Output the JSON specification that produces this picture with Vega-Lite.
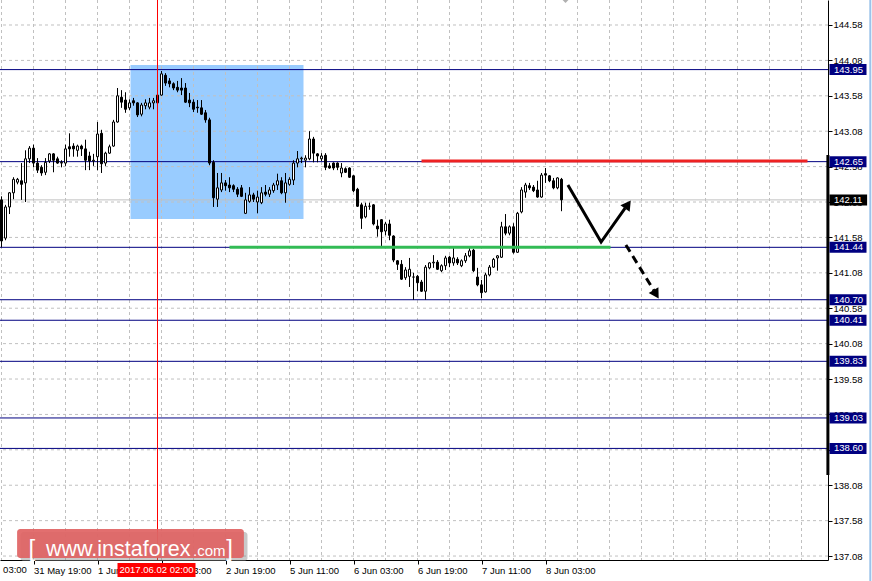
{
"$schema": "https://vega.github.io/schema/vega-lite/v6.json",
"width": 828, "height": 560,
"autosize": "none",
"padding": {"left": 0, "top": 0, "right": 44, "bottom": 21},
"background": "white",
"config": {"view": {"stroke": null}, "scale": {"continuousPadding": 0}, "axis": {"labelFont": "Liberation Sans", "labelFontSize": 9.5, "labelColor": "black", "domainColor": "black", "tickColor": "black", "grid": false}},
"datasets": {
"candles": [
{"i":0,"o":142.11,"h":142.16,"l":141.44,"c":141.53},
{"i":1,"o":141.57,"h":142.04,"l":141.54,"c":142.01},
{"i":2,"o":142.01,"h":142.22,"l":141.91,"c":142.21},
{"i":3,"o":142.21,"h":142.43,"l":142.12,"c":142.40},
{"i":4,"o":142.36,"h":142.42,"l":142.33,"c":142.40},
{"i":5,"o":142.38,"h":142.63,"l":142.11,"c":142.33},
{"i":6,"o":142.35,"h":142.81,"l":142.08,"c":142.69},
{"i":7,"o":142.69,"h":142.87,"l":142.63,"c":142.84},
{"i":8,"o":142.84,"h":142.89,"l":142.57,"c":142.63},
{"i":9,"o":142.63,"h":142.70,"l":142.49,"c":142.53},
{"i":10,"o":142.57,"h":142.60,"l":142.45,"c":142.49},
{"i":11,"o":142.50,"h":142.70,"l":142.46,"c":142.64},
{"i":12,"o":142.66,"h":142.77,"l":142.63,"c":142.76},
{"i":13,"o":142.76,"h":142.77,"l":142.50,"c":142.67},
{"i":14,"o":142.69,"h":142.72,"l":142.62,"c":142.63},
{"i":15,"o":142.63,"h":142.67,"l":142.57,"c":142.64},
{"i":16,"o":142.63,"h":142.89,"l":142.59,"c":142.83},
{"i":17,"o":142.86,"h":143.05,"l":142.72,"c":142.83},
{"i":18,"o":142.87,"h":142.91,"l":142.72,"c":142.83},
{"i":19,"o":142.81,"h":142.89,"l":142.72,"c":142.87},
{"i":20,"o":142.87,"h":142.89,"l":142.73,"c":142.83},
{"i":21,"o":142.83,"h":142.96,"l":142.53,"c":142.67},
{"i":22,"o":142.73,"h":142.79,"l":142.53,"c":142.66},
{"i":23,"o":142.66,"h":142.76,"l":142.59,"c":142.67},
{"i":24,"o":142.72,"h":143.21,"l":142.53,"c":143.04},
{"i":25,"o":143.05,"h":143.10,"l":142.49,"c":142.62},
{"i":26,"o":142.63,"h":142.79,"l":142.59,"c":142.77},
{"i":27,"o":142.77,"h":142.89,"l":142.76,"c":142.86},
{"i":28,"o":142.87,"h":143.24,"l":142.86,"c":143.21},
{"i":29,"o":143.21,"h":143.69,"l":143.20,"c":143.58},
{"i":30,"o":143.56,"h":143.66,"l":143.41,"c":143.49},
{"i":31,"o":143.52,"h":143.63,"l":143.34,"c":143.39},
{"i":32,"o":143.41,"h":143.53,"l":143.38,"c":143.48},
{"i":33,"o":143.51,"h":143.55,"l":143.44,"c":143.48},
{"i":34,"o":143.48,"h":143.49,"l":143.28,"c":143.31},
{"i":35,"o":143.32,"h":143.48,"l":143.29,"c":143.45},
{"i":36,"o":143.44,"h":143.53,"l":143.39,"c":143.48},
{"i":37,"o":143.42,"h":143.55,"l":143.39,"c":143.48},
{"i":38,"o":143.48,"h":143.55,"l":143.39,"c":143.51},
{"i":39,"o":143.48,"h":143.61,"l":143.46,"c":143.59},
{"i":40,"o":143.59,"h":143.93,"l":143.58,"c":143.89},
{"i":41,"o":143.87,"h":143.90,"l":143.72,"c":143.76},
{"i":42,"o":143.79,"h":143.83,"l":143.70,"c":143.75},
{"i":43,"o":143.75,"h":143.77,"l":143.66,"c":143.69},
{"i":44,"o":143.70,"h":143.79,"l":143.63,"c":143.66},
{"i":45,"o":143.69,"h":143.83,"l":143.59,"c":143.66},
{"i":46,"o":143.69,"h":143.76,"l":143.48,"c":143.49},
{"i":47,"o":143.52,"h":143.62,"l":143.42,"c":143.48},
{"i":48,"o":143.49,"h":143.53,"l":143.35,"c":143.39},
{"i":49,"o":143.42,"h":143.52,"l":143.34,"c":143.41},
{"i":50,"o":143.41,"h":143.52,"l":143.31,"c":143.32},
{"i":51,"o":143.34,"h":143.38,"l":143.20,"c":143.24},
{"i":52,"o":143.24,"h":143.27,"l":142.60,"c":142.63},
{"i":53,"o":142.64,"h":142.67,"l":142.01,"c":142.14},
{"i":54,"o":142.12,"h":142.49,"l":142.01,"c":142.28},
{"i":55,"o":142.25,"h":142.49,"l":142.22,"c":142.35},
{"i":56,"o":142.35,"h":142.39,"l":142.24,"c":142.31},
{"i":57,"o":142.32,"h":142.43,"l":142.22,"c":142.28},
{"i":58,"o":142.31,"h":142.33,"l":142.22,"c":142.26},
{"i":59,"o":142.26,"h":142.29,"l":142.15,"c":142.19},
{"i":60,"o":142.28,"h":142.32,"l":142.15,"c":142.16},
{"i":61,"o":141.92,"h":142.21,"l":141.91,"c":142.11},
{"i":62,"o":142.09,"h":142.29,"l":142.07,"c":142.18},
{"i":63,"o":142.18,"h":142.21,"l":142.08,"c":142.12},
{"i":64,"o":142.08,"h":142.24,"l":141.92,"c":142.15},
{"i":65,"o":142.07,"h":142.29,"l":142.05,"c":142.21},
{"i":66,"o":142.22,"h":142.32,"l":142.16,"c":142.19},
{"i":67,"o":142.19,"h":142.29,"l":142.15,"c":142.25},
{"i":68,"o":142.24,"h":142.35,"l":142.21,"c":142.32},
{"i":69,"o":142.32,"h":142.48,"l":142.25,"c":142.38},
{"i":70,"o":142.38,"h":142.43,"l":142.19,"c":142.21},
{"i":71,"o":142.21,"h":142.49,"l":142.07,"c":142.35},
{"i":72,"o":142.33,"h":142.43,"l":142.31,"c":142.40},
{"i":73,"o":142.39,"h":142.67,"l":142.32,"c":142.63},
{"i":74,"o":142.63,"h":142.80,"l":142.57,"c":142.69},
{"i":75,"o":142.69,"h":142.72,"l":142.63,"c":142.70},
{"i":76,"o":142.67,"h":142.74,"l":142.57,"c":142.70},
{"i":77,"o":142.69,"h":143.08,"l":142.67,"c":142.97},
{"i":78,"o":142.97,"h":143.00,"l":142.64,"c":142.77},
{"i":79,"o":142.76,"h":142.77,"l":142.64,"c":142.73},
{"i":80,"o":142.69,"h":142.77,"l":142.66,"c":142.73},
{"i":81,"o":142.74,"h":142.77,"l":142.53,"c":142.57},
{"i":82,"o":142.59,"h":142.63,"l":142.55,"c":142.56},
{"i":83,"o":142.63,"h":142.64,"l":142.53,"c":142.56},
{"i":84,"o":142.63,"h":142.64,"l":142.53,"c":142.57},
{"i":85,"o":142.49,"h":142.63,"l":142.43,"c":142.56},
{"i":86,"o":142.55,"h":142.57,"l":142.49,"c":142.50},
{"i":87,"o":142.56,"h":142.57,"l":142.42,"c":142.43},
{"i":88,"o":142.45,"h":142.46,"l":142.22,"c":142.24},
{"i":89,"o":142.26,"h":142.28,"l":142.01,"c":142.02},
{"i":90,"o":142.04,"h":142.07,"l":141.70,"c":141.85},
{"i":91,"o":141.87,"h":142.07,"l":141.85,"c":142.02},
{"i":92,"o":142.02,"h":142.07,"l":141.97,"c":142.02},
{"i":93,"o":142.04,"h":142.05,"l":141.75,"c":141.77},
{"i":94,"o":141.74,"h":141.83,"l":141.59,"c":141.70},
{"i":95,"o":141.83,"h":141.84,"l":141.44,"c":141.66},
{"i":96,"o":141.67,"h":141.80,"l":141.61,"c":141.77},
{"i":97,"o":141.77,"h":141.83,"l":141.54,"c":141.61},
{"i":98,"o":141.60,"h":141.61,"l":141.23,"c":141.26},
{"i":99,"o":141.25,"h":141.26,"l":141.12,"c":141.20},
{"i":100,"o":141.20,"h":141.26,"l":140.98,"c":140.99},
{"i":101,"o":141.01,"h":141.16,"l":140.98,"c":141.12},
{"i":102,"o":141.03,"h":141.29,"l":140.88,"c":141.13},
{"i":103,"o":141.02,"h":141.08,"l":140.70,"c":141.02},
{"i":104,"o":141.03,"h":141.05,"l":140.82,"c":140.94},
{"i":105,"o":140.95,"h":140.98,"l":140.81,"c":140.82},
{"i":106,"o":140.82,"h":141.19,"l":140.70,"c":141.16},
{"i":107,"o":141.15,"h":141.23,"l":141.13,"c":141.22},
{"i":108,"o":141.22,"h":141.33,"l":141.15,"c":141.23},
{"i":109,"o":141.23,"h":141.26,"l":141.12,"c":141.13},
{"i":110,"o":141.11,"h":141.20,"l":141.09,"c":141.18},
{"i":111,"o":141.18,"h":141.32,"l":141.12,"c":141.29},
{"i":112,"o":141.30,"h":141.32,"l":141.16,"c":141.22},
{"i":113,"o":141.22,"h":141.43,"l":141.18,"c":141.29},
{"i":114,"o":141.27,"h":141.30,"l":141.19,"c":141.22},
{"i":115,"o":141.18,"h":141.27,"l":141.16,"c":141.25},
{"i":116,"o":141.25,"h":141.36,"l":141.22,"c":141.32},
{"i":117,"o":141.32,"h":141.43,"l":141.30,"c":141.39},
{"i":118,"o":141.40,"h":141.42,"l":141.09,"c":141.11},
{"i":119,"o":141.02,"h":141.15,"l":140.89,"c":140.91},
{"i":120,"o":140.91,"h":140.98,"l":140.72,"c":140.80},
{"i":121,"o":140.81,"h":141.08,"l":140.80,"c":141.05},
{"i":122,"o":141.05,"h":141.19,"l":141.03,"c":141.16},
{"i":123,"o":141.16,"h":141.29,"l":141.15,"c":141.27},
{"i":124,"o":141.29,"h":141.33,"l":141.11,"c":141.32},
{"i":125,"o":141.30,"h":141.80,"l":141.29,"c":141.73},
{"i":126,"o":141.73,"h":141.91,"l":141.61,"c":141.64},
{"i":127,"o":141.64,"h":141.75,"l":141.61,"c":141.73},
{"i":128,"o":141.73,"h":141.78,"l":141.35,"c":141.37},
{"i":129,"o":141.37,"h":141.94,"l":141.36,"c":141.92},
{"i":130,"o":141.94,"h":142.29,"l":141.92,"c":142.25},
{"i":131,"o":142.22,"h":142.35,"l":142.14,"c":142.32},
{"i":132,"o":142.31,"h":142.35,"l":142.25,"c":142.28},
{"i":133,"o":142.29,"h":142.32,"l":142.22,"c":142.24},
{"i":134,"o":142.25,"h":142.38,"l":142.14,"c":142.15},
{"i":135,"o":142.15,"h":142.49,"l":142.14,"c":142.46},
{"i":136,"o":142.48,"h":142.56,"l":142.35,"c":142.46},
{"i":137,"o":142.45,"h":142.46,"l":142.36,"c":142.38},
{"i":138,"o":142.38,"h":142.42,"l":142.26,"c":142.28},
{"i":139,"o":142.28,"h":142.43,"l":142.26,"c":142.42},
{"i":140,"o":142.40,"h":142.42,"l":141.95,"c":142.11}
],
"vgrid": [{"i":0},{"i":8},{"i":16},{"i":24},{"i":32},{"i":40},{"i":48},{"i":56},{"i":64},{"i":72},{"i":80},{"i":88},{"i":96},{"i":104},{"i":112},{"i":120},{"i":128},{"i":136},{"i":144},{"i":152},{"i":160},{"i":168},{"i":176},{"i":184},{"i":192},{"i":200}],
"hgrid": [{"p":137.08},{"p":137.58},{"p":138.08},{"p":138.58},{"p":139.08},{"p":139.58},{"p":140.08},{"p":140.58},{"p":141.08},{"p":141.58},{"p":142.08},{"p":142.58},{"p":143.08},{"p":143.58},{"p":144.08},{"p":144.58}],
"levels": [{"p":143.95},{"p":142.65},{"p":141.44},{"p":140.70},{"p":140.41},{"p":139.83},{"p":139.03},{"p":138.60}],
"vline": [{"t":39}],
"axisbar": [{"ab":206.6,"abtop":142.744,"abbot":138.224}],
"edge": [{"ex":217.2,"etop":144.95,"ebot":136.7}]
},
"layer": [
{"data": {"values": [{"i1": 32.25, "i2": 75.5, "p1": 144.015, "p2": 141.84}]},
 "mark": {"type": "rect", "color": "#99ccff"},
 "encoding": {"x": {"field": "i1", "type": "quantitative", "scale": {"domain": [-0.375, 206.625], "nice": false, "zero": false, "padding": 0},
  "axis": {"orient": "bottom", "values": [8, 24, 40, 56, 72, 88, 104, 120, 136], "tickCount": 40, "labelExpr": "datum.value==8?'31 May 19:00':datum.value==24?'1 Jun 11:00':datum.value==40?'2 Jun 03:00':datum.value==56?'2 Jun 19:00':datum.value==72?'5 Jun 11:00':datum.value==88?'6 Jun 03:00':datum.value==104?'6 Jun 19:00':datum.value==120?'7 Jun 11:00':'8 Jun 03:00'", "labelAlign": "left", "labelBaseline": "top", "labelPadding": 1, "tickSize": 4, "labelOverlap": false, "labelBound": false, "labelFlush": false, "title": null, "grid": false, "domain": true}},
  "x2": {"field": "i2"},
  "y": {"field": "p1", "type": "quantitative", "scale": {"domain": [137.024, 144.933], "nice": false, "zero": false, "padding": 0},
  "axis": {"orient": "right", "values": [137.08, 137.58, 138.08, 138.58, 139.08, 139.58, 140.08, 140.58, 141.08, 141.58, 142.08, 142.58, 143.08, 143.58, 144.08, 144.58], "tickCount": 40, "format": ".2f", "labelAlign": "left", "labelBaseline": "middle", "labelPadding": 1, "tickSize": 4, "labelOverlap": false, "labelBound": false, "labelFlush": false, "title": null, "grid": false, "domain": true}},
  "y2": {"field": "p2"}}},
{"data": {"name": "vgrid"},
 "mark": {"type": "rule", "color": "#c0c0c0", "strokeDash": [3, 3], "strokeWidth": 1},
 "encoding": {"x": {"field": "i", "type": "quantitative", "scale": {"domain": [-0.375, 206.625], "nice": false, "zero": false}}}},
{"data": {"name": "hgrid"},
 "mark": {"type": "rule", "color": "#c0c0c0", "strokeDash": [3, 3], "strokeWidth": 1},
 "encoding": {"y": {"field": "p", "type": "quantitative", "scale": {"domain": [137.024, 144.933], "nice": false, "zero": false}}}},
{"data": {"values": [{"p": 142.11}]},
 "mark": {"type": "rule", "color": "#c0c0c0", "strokeWidth": 1},
 "encoding": {"y": {"field": "p", "type": "quantitative", "scale": {"domain": [137.024, 144.933], "nice": false, "zero": false}}}},
{"data": {"name": "levels"},
 "mark": {"type": "rule", "color": "#000080", "strokeWidth": 1},
 "encoding": {"y": {"field": "p", "type": "quantitative", "scale": {"domain": [137.024, 144.933], "nice": false, "zero": false}}}},
{"data": {"name": "candles"},
 "mark": {"type": "rule", "color": "black", "strokeWidth": 1},
 "encoding": {"x": {"field": "i", "type": "quantitative", "scale": {"domain": [-0.375, 206.625], "nice": false, "zero": false}},
  "y": {"field": "l", "type": "quantitative", "scale": {"domain": [137.024, 144.933], "nice": false, "zero": false}}, "y2": {"field": "h"}}},
{"data": {"name": "candles"},
 "mark": {"type": "bar", "width": 2, "stroke": "black", "strokeWidth": 1},
 "encoding": {"x": {"field": "i", "type": "quantitative", "scale": {"domain": [-0.375, 206.625], "nice": false, "zero": false}},
  "y": {"field": "o", "type": "quantitative", "scale": {"domain": [137.024, 144.933], "nice": false, "zero": false}}, "y2": {"field": "c"},
  "fill": {"condition": {"test": "datum.c < datum.o", "value": "black"}, "value": "white"}}},
{"data": {"name": "vline"},
 "mark": {"type": "rule", "color": "#ff0000", "strokeWidth": 1},
 "encoding": {"x": {"field": "t", "type": "quantitative", "scale": {"domain": [-0.375, 206.625], "nice": false, "zero": false}}}},
{"data": {"values": [{"i1": 105, "i2": 201.5, "p": 142.66}]},
 "mark": {"type": "rule", "color": "#ee2222", "strokeWidth": 3},
 "encoding": {"x": {"field": "i1", "type": "quantitative", "scale": {"domain": [-0.375, 206.625], "nice": false, "zero": false}}, "x2": {"field": "i2"},
  "y": {"field": "p", "type": "quantitative", "scale": {"domain": [137.024, 144.933], "nice": false, "zero": false}}}},
{"data": {"values": [{"i1": 57, "i2": 152.25, "p": 141.44}]},
 "mark": {"type": "rule", "color": "#33bb55", "strokeWidth": 3},
 "encoding": {"x": {"field": "i1", "type": "quantitative", "scale": {"domain": [-0.375, 206.625], "nice": false, "zero": false}}, "x2": {"field": "i2"},
  "y": {"field": "p", "type": "quantitative", "scale": {"domain": [137.024, 144.933], "nice": false, "zero": false}}}},
{"data": {"values": [{"i": 141.6, "p": 142.32}, {"i": 149.9, "p": 141.515}, {"i": 155.9, "p": 141.994}]},
 "mark": {"type": "line", "color": "black", "strokeWidth": 3, "strokeJoin": "miter"},
 "encoding": {"x": {"field": "i", "type": "quantitative", "scale": {"domain": [-0.375, 206.625], "nice": false, "zero": false}},
  "y": {"field": "p", "type": "quantitative", "scale": {"domain": [137.024, 144.933], "nice": false, "zero": false}}}},
{"data": {"values": [{"i": 156.1, "p": 141.473}, {"i": 163.1, "p": 140.83}]},
 "mark": {"type": "line", "color": "black", "strokeWidth": 3, "strokeDash": [8, 5]},
 "encoding": {"x": {"field": "i", "type": "quantitative", "scale": {"domain": [-0.375, 206.625], "nice": false, "zero": false}},
  "y": {"field": "p", "type": "quantitative", "scale": {"domain": [137.024, 144.933], "nice": false, "zero": false}}}},
{"data": {"values": [{"i": 156.6, "p": 142.045}]},
 "mark": {"type": "point", "shape": "triangle-up", "filled": true, "color": "black", "size": 130, "angle": 35.5, "opacity": 1},
 "encoding": {"x": {"field": "i", "type": "quantitative", "scale": {"domain": [-0.375, 206.625], "nice": false, "zero": false}},
  "y": {"field": "p", "type": "quantitative", "scale": {"domain": [137.024, 144.933], "nice": false, "zero": false}}}},
{"data": {"values": [{"i": 163.65, "p": 140.776}]},
 "mark": {"type": "point", "shape": "triangle-up", "filled": true, "color": "black", "size": 130, "angle": 148.6, "opacity": 1},
 "encoding": {"x": {"field": "i", "type": "quantitative", "scale": {"domain": [-0.375, 206.625], "nice": false, "zero": false}},
  "y": {"field": "p", "type": "quantitative", "scale": {"domain": [137.024, 144.933], "nice": false, "zero": false}}}},
{"data": {"values": [{"i": 141, "p": 144.975}]},
 "mark": {"type": "point", "shape": "diamond", "filled": true, "color": "#b0b0b0", "size": 140, "opacity": 1},
 "encoding": {"x": {"field": "i", "type": "quantitative", "scale": {"domain": [-0.375, 206.625], "nice": false, "zero": false}},
  "y": {"field": "p", "type": "quantitative", "scale": {"domain": [137.024, 144.933], "nice": false, "zero": false}}}},
{"data": {"name": "axisbar"},
 "mark": {"type": "rule", "color": "black", "strokeWidth": 3},
 "encoding": {"x": {"field": "ab", "type": "quantitative", "scale": {"domain": [-0.375, 206.625], "nice": false, "zero": false}},
  "y": {"field": "abtop", "type": "quantitative", "scale": {"domain": [137.024, 144.933], "nice": false, "zero": false}}, "y2": {"field": "abbot"}}},
{"data": {"name": "edge"},
 "mark": {"type": "rule", "color": "#9cc3ea", "strokeWidth": 2},
 "encoding": {"x": {"field": "ex", "type": "quantitative", "scale": {"domain": [-0.375, 206.625], "nice": false, "zero": false}},
  "y": {"field": "etop", "type": "quantitative", "scale": {"domain": [137.024, 144.933], "nice": false, "zero": false}}, "y2": {"field": "ebot"}}},
{"data": {"name": "levels"},
 "mark": {"type": "bar", "orient": "horizontal", "size": 11, "color": "#000080"},
 "encoding": {"x": {"datum": 207, "type": "quantitative", "scale": {"domain": [-0.375, 206.625], "nice": false, "zero": false}}, "x2": {"datum": 216.25},
  "y": {"field": "p", "type": "quantitative", "scale": {"domain": [137.024, 144.933], "nice": false, "zero": false}}}},
{"data": {"name": "levels"},
 "mark": {"type": "text", "color": "white", "font": "Liberation Sans", "fontSize": 9.5, "align": "left", "baseline": "middle"},
 "encoding": {"x": {"datum": 208.1, "type": "quantitative", "scale": {"domain": [-0.375, 206.625], "nice": false, "zero": false}},
  "y": {"field": "p", "type": "quantitative", "scale": {"domain": [137.024, 144.933], "nice": false, "zero": false}},
  "text": {"field": "p", "type": "quantitative", "format": ".2f"}}},
{"data": {"values": [{"p": 142.11}]},
 "mark": {"type": "bar", "orient": "horizontal", "size": 11, "color": "black"},
 "encoding": {"x": {"datum": 207, "type": "quantitative", "scale": {"domain": [-0.375, 206.625], "nice": false, "zero": false}}, "x2": {"datum": 216.4},
  "y": {"field": "p", "type": "quantitative", "scale": {"domain": [137.024, 144.933], "nice": false, "zero": false}}}},
{"data": {"values": [{"p": 142.11}]},
 "mark": {"type": "text", "color": "white", "font": "Liberation Sans", "fontSize": 9.5, "align": "left", "baseline": "middle"},
 "encoding": {"x": {"datum": 208.1, "type": "quantitative", "scale": {"domain": [-0.375, 206.625], "nice": false, "zero": false}},
  "y": {"field": "p", "type": "quantitative", "scale": {"domain": [137.024, 144.933], "nice": false, "zero": false}},
  "text": {"field": "p", "type": "quantitative", "format": ".2f"}}},
{"data": {"values": [{"i1": 29, "i2": 48.5, "p": 136.883}]},
 "mark": {"type": "bar", "orient": "horizontal", "size": 14, "color": "#ff0000"},
 "encoding": {"x": {"field": "i1", "type": "quantitative", "scale": {"domain": [-0.375, 206.625], "nice": false, "zero": false}}, "x2": {"field": "i2"},
  "y": {"field": "p", "type": "quantitative", "scale": {"domain": [137.024, 144.933], "nice": false, "zero": false}}}},
{"data": {"values": [{"i": 38.75, "p": 136.883}]},
 "mark": {"type": "text", "text": "2017.06.02 02:00", "color": "white", "font": "Liberation Sans", "fontSize": 9.5, "align": "center", "baseline": "middle"},
 "encoding": {"x": {"field": "i", "type": "quantitative", "scale": {"domain": [-0.375, 206.625], "nice": false, "zero": false}},
  "y": {"field": "p", "type": "quantitative", "scale": {"domain": [137.024, 144.933], "nice": false, "zero": false}}}},
{"data": {"values": [{"i": 0.4, "p": 136.953}]},
 "mark": {"type": "text", "text": "03:00", "color": "black", "font": "Liberation Sans", "fontSize": 9.5, "align": "left", "baseline": "top"},
 "encoding": {"x": {"field": "i", "type": "quantitative", "scale": {"domain": [-0.375, 206.625], "nice": false, "zero": false}},
  "y": {"field": "p", "type": "quantitative", "scale": {"domain": [137.024, 144.933], "nice": false, "zero": false}}}},
{"data": {"values": [{"i1": 4.75, "i2": 61.5, "p": 137.214}]},
 "mark": {"type": "bar", "orient": "horizontal", "size": 29, "color": "#888888", "opacity": 0.45, "cornerRadius": 3},
 "encoding": {"x": {"field": "i1", "type": "quantitative", "scale": {"domain": [-0.375, 206.625], "nice": false, "zero": false}}, "x2": {"field": "i2"},
  "y": {"field": "p", "type": "quantitative", "scale": {"domain": [137.024, 144.933], "nice": false, "zero": false}}}},
{"data": {"values": [{"i1": 3.9, "i2": 60.6, "p": 137.257}]},
 "mark": {"type": "bar", "orient": "horizontal", "size": 29, "color": "#e06464", "opacity": 0.93, "cornerRadius": 3},
 "encoding": {"x": {"field": "i1", "type": "quantitative", "scale": {"domain": [-0.375, 206.625], "nice": false, "zero": false}}, "x2": {"field": "i2"},
  "y": {"field": "p", "type": "quantitative", "scale": {"domain": [137.024, 144.933], "nice": false, "zero": false}}}},
{"data": {"values": [{"i": 6.75, "p": 137.08}]},
 "mark": {"type": "text", "text": "[", "color": "white", "font": "Liberation Sans", "fontSize": 24, "align": "left", "baseline": "alphabetic"},
 "encoding": {"x": {"field": "i", "type": "quantitative", "scale": {"domain": [-0.375, 206.625], "nice": false, "zero": false}},
  "y": {"field": "p", "type": "quantitative", "scale": {"domain": [137.024, 144.933], "nice": false, "zero": false}}}},
{"data": {"values": [{"i": 11.1, "p": 137.08}]},
 "mark": {"type": "text", "text": "www.instaforex", "color": "white", "font": "Liberation Sans", "fontSize": 21.5, "align": "left", "baseline": "alphabetic"},
 "encoding": {"x": {"field": "i", "type": "quantitative", "scale": {"domain": [-0.375, 206.625], "nice": false, "zero": false}},
  "y": {"field": "p", "type": "quantitative", "scale": {"domain": [137.024, 144.933], "nice": false, "zero": false}}}},
{"data": {"values": [{"i": 47.9, "p": 137.08}]},
 "mark": {"type": "text", "text": ".com", "color": "white", "font": "Liberation Sans", "fontSize": 15, "align": "left", "baseline": "alphabetic"},
 "encoding": {"x": {"field": "i", "type": "quantitative", "scale": {"domain": [-0.375, 206.625], "nice": false, "zero": false}},
  "y": {"field": "p", "type": "quantitative", "scale": {"domain": [137.024, 144.933], "nice": false, "zero": false}}}},
{"data": {"values": [{"i": 56.2, "p": 137.08}]},
 "mark": {"type": "text", "text": "]", "color": "white", "font": "Liberation Sans", "fontSize": 24, "align": "left", "baseline": "alphabetic"},
 "encoding": {"x": {"field": "i", "type": "quantitative", "scale": {"domain": [-0.375, 206.625], "nice": false, "zero": false}},
  "y": {"field": "p", "type": "quantitative", "scale": {"domain": [137.024, 144.933], "nice": false, "zero": false}}}}
]
}
